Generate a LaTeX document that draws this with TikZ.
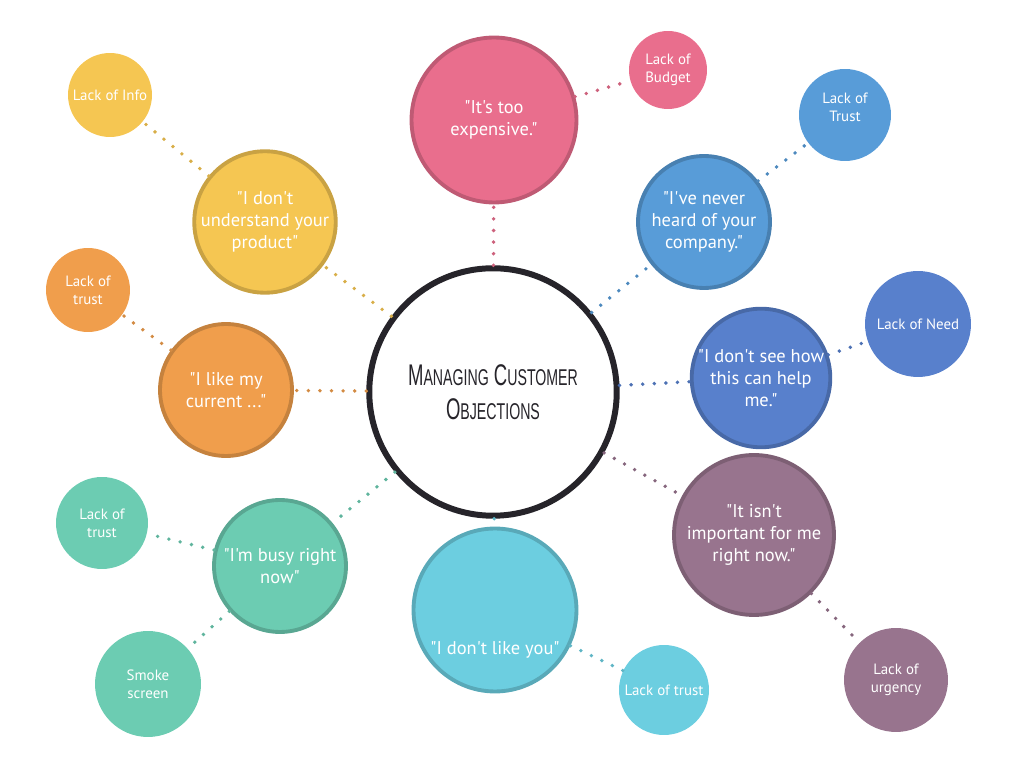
\documentclass[tikz,border=0pt]{standalone}
\usepackage{fontspec}
\setmainfont{PT Sans}[Ligatures=TeXOff]
\newfontfamily\titlefont{Liberation Sans}[FakeStretch=0.62]
\usetikzlibrary{positioning}
\definecolor{mchub}{RGB}{38,36,42}
\definecolor{mcpink}{RGB}{233,110,141}
\definecolor{mcyellow}{RGB}{245,198,82}
\definecolor{mcorange}{RGB}{240,158,76}
\definecolor{mcblue}{RGB}{88,156,216}
\definecolor{mcnavy}{RGB}{88,128,204}
\definecolor{mcpurple}{RGB}{152,116,142}
\definecolor{mccyan}{RGB}{108,206,224}
\definecolor{mcteal}{RGB}{108,204,178}

\begin{document}
\begin{tikzpicture}[x=0.02cm, y=-0.02cm,
    hub/.style={circle, draw=mchub, line width=3.4pt, fill=white,
        minimum size=4.95cm, inner sep=0pt, align=center,
        font=\titlefont\fontsize{17}{19.5}\selectfont, text=mchub},
    objection/.style={circle, fill=#1, draw=#1!82!black,
        line width=2.2pt, inner sep=0pt, align=center, text=white,
        font=\fontsize{10.5}{12.6}\selectfont},
    cause/.style={circle, fill=#1, inner sep=0pt, align=center,
        text=white, font=\fontsize{8.5}{10.2}\selectfont},
    link/.style={draw=#1!88!black, line width=2.2pt, line cap=round,
        dash pattern=on 0pt off 6.6pt}
]
    \useasboundingbox (0,0) rectangle (1012,783);

    % centre
    \node[hub] (hub) at (493,392)
        {M{\fontsize{13}{19.5}\selectfont ANAGING} C{\fontsize{13}{19.5}\selectfont USTOMER}\\
         O{\fontsize{13}{19.5}\selectfont BJECTIONS}};

    % objections
    \node[objection=mcpink, minimum size=3.3cm] (expensive) at (494,120)
        {"It's too\\expensive."};
    \node[objection=mcyellow, minimum size=2.64cm] (product) at (265,222)
        {"I don't\\understand your\\product"};
    \node[objection=mcorange, minimum size=2.64cm] (current) at (226,390)
        {"I like my\\current ..."};
    \node[objection=mcblue, minimum size=2.64cm] (company) at (704,222)
        {"I've never\\heard of your\\company."};
    \node[objection=mcnavy, minimum size=2.48cm] (help) at (761,378)
        {"I don't see how\\this can help\\me."};
    \node[objection=mcpurple, minimum size=3.2cm] (important) at (754,535)
        {"It isn't\\important for me\\right now."};
    \node[objection=mccyan, minimum size=3.26cm,
          label={[text=white, font=\fontsize{10.5}{12.6}\selectfont,
                  yshift=-0.8cm]center:"I don't like you"}] (likeyou) at (495,610) {};
    \node[objection=mcteal, minimum size=2.64cm] (busy) at (280,566)
        {"I'm busy right\\now"};

    % causes
    \node[cause=mcpink, minimum size=1.56cm] (budget) at (668,70)
        {Lack of\\Budget};
    \node[cause=mcyellow, minimum size=1.68cm] (info) at (110,95)
        {Lack of Info};
    \node[cause=mcorange, minimum size=1.68cm] (trusto) at (88,290)
        {Lack of\\trust};
    \node[cause=mcblue, minimum size=1.84cm,
          label={[text=white, font=\fontsize{8.5}{10.2}\selectfont,
                  align=center, yshift=0.16cm]center:Lack of\\Trust}] (trustb) at (845,115) {};
    \node[cause=mcnavy, minimum size=2.12cm] (need) at (918,324)
        {Lack of Need};
    \node[cause=mcpurple, minimum size=2.08cm] (urgency) at (896,680)
        {Lack of\\urgency};
    \node[cause=mccyan, minimum size=1.8cm] (trustc) at (664,690)
        {Lack of trust};
    \node[cause=mcteal, minimum size=1.84cm] (trustt) at (102,523)
        {Lack of\\trust};
    \node[cause=mcteal, minimum size=2.12cm] (smoke) at (148,684)
        {Smoke\\screen};

    % links
    \draw[link=mcpink] (hub) -- (expensive);
    \draw[link=mcpink] (expensive) -- (budget);
    \draw[link=mcyellow] (hub) -- (product);
    \draw[link=mcyellow] (product) -- (info);
    \draw[link=mcorange] (hub) -- (current);
    \draw[link=mcorange] (current) -- (trusto);
    \draw[link=mcblue] (hub) -- (company);
    \draw[link=mcblue] (company) -- (trustb);
    \draw[link=mcnavy] (hub) -- (help);
    \draw[link=mcnavy] (help) -- (need);
    \draw[link=mcpurple] (hub) -- (important);
    \draw[link=mcpurple] (important) -- (urgency);
    \draw[link=mccyan] (hub) -- (likeyou);
    \draw[link=mccyan] (likeyou) -- (trustc);
    \draw[link=mcteal] (hub) -- (busy);
    \draw[link=mcteal] (busy) -- (trustt);
    \draw[link=mcteal] (busy) -- (smoke);
\end{tikzpicture}
\end{document}
